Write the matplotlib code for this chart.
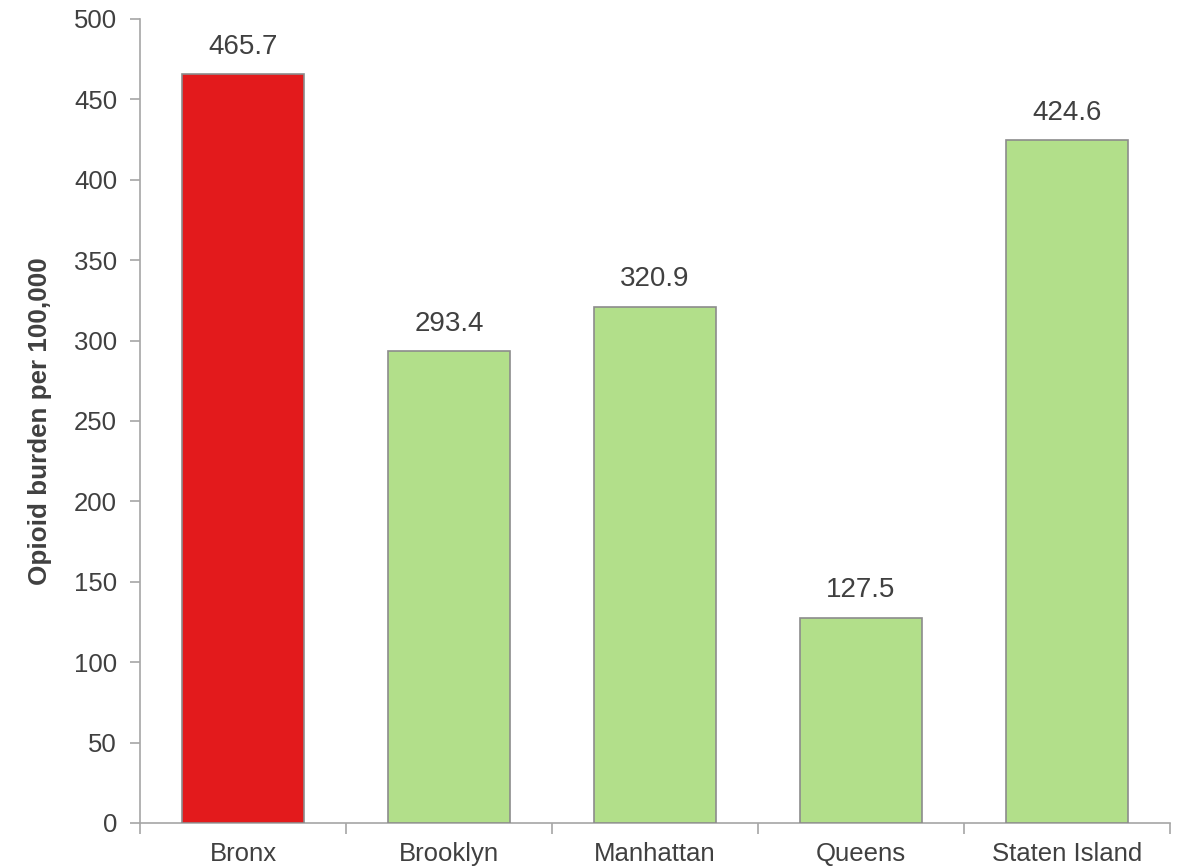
import matplotlib
matplotlib.use("Agg")
import matplotlib.pyplot as plt

categories = ["Bronx", "Brooklyn", "Manhattan", "Queens", "Staten Island"]
values = [465.7, 293.4, 320.9, 127.5, 424.6]
colors = ["#E31A1C", "#B2DF8A", "#B2DF8A", "#B2DF8A", "#B2DF8A"]
yticks = list(range(0, 501, 50))
ylabel = "Opioid burden per 100,000"

plt.rcParams['font.family'] = ['Liberation Sans', 'DejaVu Sans']
text_color = "#404040"
axis_color = "#A6A6A6"

fig = plt.figure(figsize=(11.78, 8.68), dpi=100)
ax = fig.add_axes([140/1178, 45/868, 1030/1178, 804/868])

x = list(range(len(categories)))
ax.bar(x, values, width=0.59, color=colors, edgecolor="#8C8C8C", linewidth=1.2, zorder=3)
for xi, v in zip(x, values):
    ax.annotate(f"{v:.1f}", (xi, v), xytext=(0, 10.5), textcoords="offset points",
                ha="center", va="bottom", fontsize=20, color=text_color)

ax.set_xlim(-0.5, len(categories) - 0.5)
ax.set_ylim(0, 500)
ax.set_yticks(yticks)
ax.set_yticklabels([str(t) for t in yticks], fontsize=18.5, color=text_color)

ax.set_xticks(x)
ax.set_xticklabels(categories, fontsize=18.5, color=text_color)
ax.tick_params(axis="x", which="major", length=0, pad=14)
ax.set_xticks([i - 0.5 for i in range(len(categories) + 1)], minor=True)
ax.tick_params(axis="x", which="minor", length=8, width=1.2, color=axis_color, direction="out")
ax.tick_params(axis="y", length=7, width=1.2, color=axis_color, direction="out", pad=9.5)

for s in ["top", "right"]:
    ax.spines[s].set_visible(False)
for s in ["left", "bottom"]:
    ax.spines[s].set_color(axis_color)
    ax.spines[s].set_linewidth(1.2)

ax.set_ylabel(ylabel, fontsize=18.7, fontweight="bold", color=text_color, labelpad=16)

fig.savefig("out.png", dpi=100)
